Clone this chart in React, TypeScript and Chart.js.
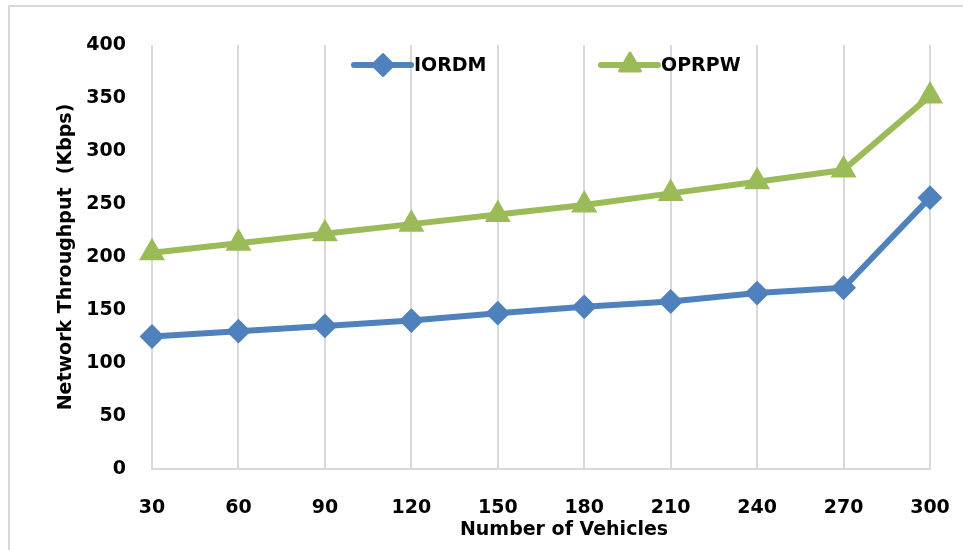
import React, { useEffect, useRef } from "react";
import { Chart, registerables } from "chart.js";

Chart.register(...registerables);

const categories = ["30", "60", "90", "120", "150", "180", "210", "240", "270", "300"];
const iordm = [125, 130, 135, 140, 147, 153, 158, 166, 171, 256];
const oprpw = [204, 213, 222, 231, 240, 249, 260, 271, 282, 352];
const seriesNames = ["IORDM", "OPRPW"];
const colors = ["#4f81bd", "#9bbb59"];
const xTitle = "Number of Vehicles";
const yTitle = "Network Throughput  (Kbps)";

const FONT = "'DejaVu Sans', sans-serif";

const framePlugin = {
  id: "frame",
  beforeDraw(chart: any) {
    const ctx = chart.ctx;
    ctx.save();
    ctx.fillStyle = "#ffffff";
    ctx.fillRect(0, 0, chart.width, chart.height);
    ctx.strokeStyle = "#d9d9d9";
    ctx.lineWidth = 2;
    ctx.strokeRect(9, 6, chart.width + 20, chart.height + 20);
    ctx.restore();
  },
};

function drawMarker(ctx: any, style: string, x: number, y: number, r: number, color: string) {
  ctx.save();
  ctx.fillStyle = color;
  ctx.strokeStyle = color;
  ctx.lineJoin = "round";
  ctx.lineWidth = style === "triangle" ? 3 : 2;
  ctx.beginPath();
  if (style === "triangle") {
    for (let k = 0; k < 3; k++) {
      const a = (k * 2 * Math.PI) / 3;
      const px = x + Math.sin(a) * r;
      const py = y - Math.cos(a) * r;
      if (k === 0) ctx.moveTo(px, py);
      else ctx.lineTo(px, py);
    }
  } else {
    ctx.moveTo(x, y - r);
    ctx.lineTo(x + r, y);
    ctx.lineTo(x, y + r);
    ctx.lineTo(x - r, y);
  }
  ctx.closePath();
  ctx.fill();
  ctx.stroke();
  ctx.restore();
}

const legendPlugin = {
  id: "customLegend",
  afterDatasetsDraw(chart: any) {
    const ctx = chart.ctx;
    const starts = [354, 601];
    const y = 65;
    chart.data.datasets.forEach((ds: any, i: number) => {
      const x0 = starts[i];
      ctx.save();
      ctx.strokeStyle = ds.borderColor;
      ctx.lineWidth = 6;
      ctx.lineCap = "round";
      ctx.beginPath();
      ctx.moveTo(x0, y);
      ctx.lineTo(x0 + 57, y);
      ctx.stroke();
      ctx.restore();
      drawMarker(ctx, ds.pointStyle, x0 + 29, y, ds.pointRadius, ds.borderColor);
      ctx.save();
      ctx.fillStyle = "#000";
      ctx.font = `bold 19px ${FONT}`;
      ctx.textBaseline = "middle";
      ctx.textAlign = "left";
      ctx.fillText(ds.label, x0 + 60, y + 1);
      ctx.restore();
    });
    ctx.save();
    ctx.fillStyle = "#000";
    ctx.font = `bold 19px ${FONT}`;
    ctx.textBaseline = "middle";
    ctx.textAlign = "center";
    ctx.fillText(xTitle, 564, 530);
    ctx.restore();
  },
};

export default function App() {
  const ref = useRef<HTMLCanvasElement>(null);
  useEffect(() => {
    document.body.style.margin = "0";
    const canvas = ref.current!;
    const chart = new Chart(canvas, {
      type: "line",
      data: {
        labels: categories,
        datasets: [
          {
            label: seriesNames[0],
            data: iordm,
            borderColor: colors[0],
            backgroundColor: colors[0],
            borderWidth: 6,
            pointStyle: "rectRot",
            pointRadius: 11,
            pointBorderWidth: 2,
            pointBackgroundColor: colors[0],
            pointBorderColor: colors[0],
            tension: 0,
          },
          {
            label: seriesNames[1],
            data: oprpw,
            borderColor: colors[1],
            backgroundColor: colors[1],
            borderWidth: 6,
            pointStyle: "triangle",
            pointRadius: 12,
            pointBorderWidth: 3,
            pointBackgroundColor: colors[1],
            pointBorderColor: colors[1],
            tension: 0,
          },
        ],
      },
      options: {
        responsive: false,
        animation: false,
        layout: { padding: { top: 45, right: 33, left: 0, bottom: 0 } },
        plugins: {
          legend: { display: false },
          tooltip: { enabled: false },
        },
        elements: { line: { borderJoinStyle: "round", borderCapStyle: "round" } },
        scales: {
          x: {
            type: "category",
            offset: false,
            grid: { color: "#d9d9d9", lineWidth: 2, drawTicks: false },
            border: { display: true, color: "#d9d9d9", width: 2 },
            ticks: {
              color: "#000",
              font: { family: FONT, size: 19, weight: "bold" },
              padding: 28,
              maxRotation: 0,
            },
            afterFit(scale: any) {
              scale.height = 81;
              scale.paddingLeft = 0;
              scale.paddingRight = 0;
            },
          },
          y: {
            min: 0,
            max: 400,
            grid: { display: false, drawTicks: false },
            border: { display: false },
            ticks: {
              stepSize: 50,
              color: "#000",
              font: { family: FONT, size: 19, weight: "bold" },
              padding: 26,
            },
            title: {
              display: true,
              text: yTitle,
              color: "#000",
              font: { family: FONT, size: 19, weight: "bold" },
              padding: { top: 55, bottom: 0 },
            },
            afterFit(scale: any) {
              scale.width = 152;
              scale.paddingTop = 0;
              scale.paddingBottom = 0;
            },
          },
        },
      } as any,
      plugins: [framePlugin, legendPlugin],
    });
    return () => chart.destroy();
  }, []);
  return (
    <div style={{ width: 963, height: 550 }}>
      <canvas ref={ref} width={963} height={550} style={{ display: "block" }} />
    </div>
  );
}
